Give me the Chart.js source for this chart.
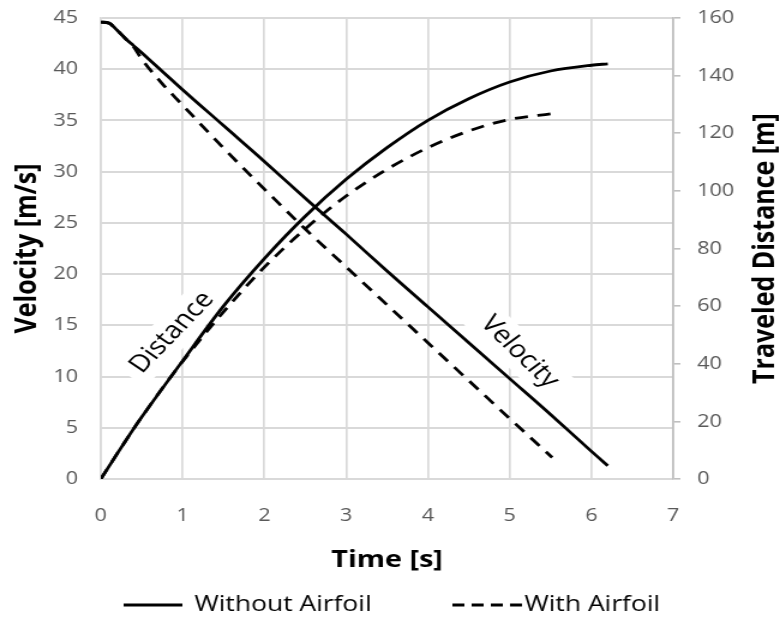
<!DOCTYPE html>
<html>
<head>
<meta charset="utf-8">
<script src="https://cdn.jsdelivr.net/npm/chart.js@4.4.1/dist/chart.umd.min.js"></script>
<style>
  html, body { margin: 0; padding: 0; background: #fff; overflow: hidden; }
  /* the reference chart is a horizontally stretched picture, so stretch ours the same way */
  #wrap { width: 650px; height: 621px; transform: scaleX(1.2); transform-origin: 0 0; }
</style>
</head>
<body>
<div id="wrap"><canvas id="chart" width="650" height="621"></canvas></div>
<script>
// time [s]
const timeNo = [0, 0.1, 0.2, 0.3, 0.4, 0.5, 1, 1.5, 2, 2.5, 3, 3.5, 4, 4.5, 5, 5.5, 6, 6.2];
const timeWith = [0, 0.1, 0.2, 0.3, 0.4, 0.5, 0.75, 1, 1.5, 2, 2.5, 3, 3.5, 4, 4.5, 5, 5.52];

// velocity [m/s]
const velocityNo = [44.6, 44.5, 43.8, 43.0, 42.3, 41.6, 38.0, 34.5, 31.0, 27.4, 23.9, 20.3, 16.8, 13.3, 9.8, 6.3, 2.7, 1.3];
const velocityWith = [44.6, 44.5, 43.8, 43.0, 42.2, 41.0, 38.6, 36.5, 32.3, 28.3, 24.4, 20.7, 17.0, 13.3, 9.6, 5.9, 2.1];

// traveled distance [m]
const distanceNo = [0, 4.4, 8.8, 13.1, 17.4, 21.5, 41, 60, 76.5, 91.2, 104, 115, 124.5, 132, 137.8, 141.6, 143.6, 144.1];
const distanceWith = [0, 4.4, 8.8, 13.1, 17.4, 21.5, 31.4, 40.8, 58, 73.5, 86.8, 98.2, 107.5, 115, 120.8, 124.8, 126.8];

const xTicks = [0, 1, 2, 3, 4, 5, 6, 7];
const legendNames = ["Without Airfoil", "With Airfoil"];

function pts(xs, ys) {
  return xs.map((x, i) => ({ x: x, y: ys[i] }));
}

Chart.defaults.font.family = "'Open Sans', sans-serif";
Chart.defaults.color = "#595959";

const lineNote = {
  id: "lineNote",
  beforeDatasetsDraw(chart) {
    const { ctx, scales } = chart;
    // angles are in canvas units; the page stretch flattens them a little
    const notes = [
      { text: "Distance", t: 0.87, v: 14.3, angle: -51 },
      { text: "Velocity", t: 5.12, v: 12.4, angle: 49 },
    ];
    ctx.save();
    ctx.font = "24px 'Open Sans', sans-serif";
    ctx.textAlign = "center";
    ctx.textBaseline = "middle";
    notes.forEach((n) => {
      const px = scales.x.getPixelForValue(n.t);
      const py = scales.y.getPixelForValue(n.v);
      const w = ctx.measureText(n.text).width;
      ctx.save();
      ctx.translate(px, py);
      ctx.rotate((n.angle * Math.PI) / 180);
      ctx.fillStyle = "#fff";
      ctx.fillRect(-w / 2 - 8, -17, w + 16, 34);
      ctx.fillStyle = "#000";
      ctx.fillText(n.text, 0, 0);
      ctx.restore();
    });
    ctx.restore();
  },
  afterDraw(chart) {
    const { ctx, chartArea } = chart;
    // right axis title reads bottom to top like the left one
    ctx.save();
    ctx.translate(638, (chartArea.top + chartArea.bottom) / 2);
    ctx.rotate(-Math.PI / 2);
    ctx.font = "bold 25px 'Open Sans', sans-serif";
    ctx.fillStyle = "#000";
    ctx.textAlign = "center";
    ctx.textBaseline = "middle";
    ctx.fillText("Traveled Distance [m]", 0, 0);
    ctx.restore();

    // legend: solid and dashed samples
    const items = [
      { x0: 103, x1: 152, tx: 162, dash: [] },
      { x0: 377, x1: 435, tx: 437, dash: [10, 6] },
    ];
    const ly = 605;
    ctx.save();
    ctx.font = "22px 'Open Sans', sans-serif";
    ctx.textBaseline = "middle";
    ctx.textAlign = "left";
    items.forEach((it, i) => {
      const ds = chart.data.datasets[i];
      ctx.strokeStyle = ds.borderColor;
      ctx.lineWidth = ds.borderWidth;
      ctx.setLineDash(it.dash);
      ctx.beginPath();
      ctx.moveTo(it.x0, ly);
      ctx.lineTo(it.x1, ly);
      ctx.stroke();
      ctx.fillStyle = "#000";
      ctx.fillText(legendNames[i], it.tx, ly);
    });
    ctx.restore();
  },
};

// side axes: fixed width, and no extra top/bottom room from the tick padding
function sideFit(width) {
  return (s) => {
    s.width = width;
    s.paddingTop = 12;
    s.paddingBottom = 0;
  };
}

new Chart(document.getElementById("chart"), {
  type: "line",
  data: {
    datasets: [
      {
        label: legendNames[0],
        data: pts(timeNo, distanceNo),
        yAxisID: "y1",
        borderColor: "#000",
        borderWidth: 2.8,
      },
      {
        label: legendNames[1],
        data: pts(timeWith, distanceWith),
        yAxisID: "y1",
        borderColor: "#000",
        borderWidth: 2.8,
        borderDash: [11, 8],
      },
      {
        label: "Velocity " + legendNames[0],
        data: pts(timeNo, velocityNo),
        yAxisID: "y",
        borderColor: "#000",
        borderWidth: 2.8,
      },
      {
        label: "Velocity " + legendNames[1],
        data: pts(timeWith, velocityWith),
        yAxisID: "y",
        borderColor: "#000",
        borderWidth: 2.8,
        borderDash: [11, 8],
      },
    ],
  },
  options: {
    responsive: false,
    animation: false,
    elements: { point: { radius: 0 }, line: { cubicInterpolationMode: "monotone" } },
    layout: { padding: { top: 18, left: 0, right: 0, bottom: 42 } },
    plugins: {
      tooltip: { enabled: false },
      legend: { display: false },
    },
    scales: {
      x: {
        type: "linear",
        min: 0,
        max: 7,
        afterBuildTicks: (s) => { s.ticks = xTicks.map((v) => ({ value: v })); },
        afterFit: (s) => { s.height = 100; },
        grid: { color: "#d9d9d9", lineWidth: 1.7, drawTicks: false },
        border: { color: "#d9d9d9", width: 1.7 },
        ticks: { padding: 26, font: { size: 18 } },
        title: {
          display: true,
          text: "Time [s]",
          color: "#000",
          font: { size: 24, weight: "bold" },
          padding: { top: 4, bottom: 4 },
        },
      },
      y: {
        position: "left",
        min: 0,
        max: 45,
        afterFit: sideFit(84),
        grid: { color: "#d9d9d9", lineWidth: 2, drawTicks: false },
        border: { color: "#d9d9d9", width: 1.7 },
        ticks: { stepSize: 5, padding: 19, font: { size: 18 } },
        title: {
          display: true,
          text: "Velocity [m/s]",
          color: "#000",
          font: { size: 25, weight: "bold" },
          padding: { top: 8, bottom: 0 },
        },
      },
      y1: {
        position: "right",
        min: 0,
        max: 160,
        afterFit: sideFit(89),
        grid: { drawOnChartArea: false, drawTicks: true, tickLength: 6, color: "#bfbfbf", lineWidth: 1.6 },
        border: { color: "#bfbfbf", width: 1.7 },
        ticks: { stepSize: 20, padding: 14, font: { size: 18 } },
      },
    },
  },
  plugins: [lineNote],
});
</script>
</body>
</html>
